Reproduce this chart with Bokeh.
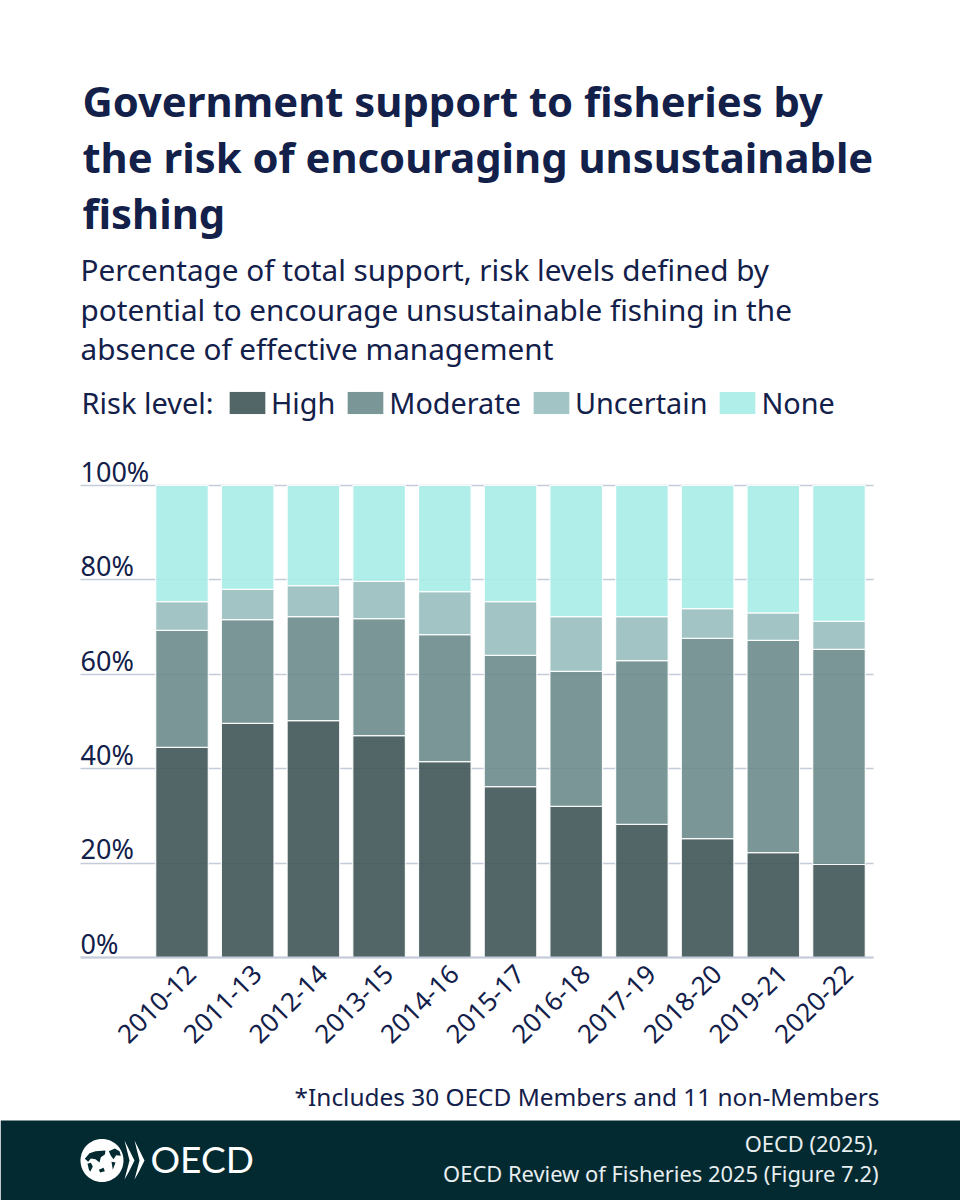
import math
import numpy as np
from bokeh.plotting import figure
from bokeh.core.properties import value
from bokeh.models import (Label, BoxAnnotation, PolyAnnotation, Legend, LegendItem,
                          Range1d, FixedTicker, ColumnDataSource)
from bokeh.embed import file_html
from bokeh.resources import INLINE

periods = ["2010-12", "2011-13", "2012-14", "2013-15", "2014-16", "2015-17",
           "2016-18", "2017-19", "2018-20", "2019-21", "2020-22"]
high = [44.5, 49.6, 50.2, 47.0, 41.5, 36.2, 32.0, 28.2, 25.2, 22.2, 19.7]
moderate = [24.8, 22.0, 22.0, 24.8, 26.9, 27.8, 28.6, 34.7, 42.4, 45.0, 45.6]
uncertain = [6.1, 6.4, 6.6, 7.9, 9.1, 11.4, 11.6, 9.3, 6.3, 5.8, 5.9]
none_risk = [24.6, 22.0, 21.2, 20.3, 22.5, 24.6, 27.8, 27.8, 26.1, 27.0, 28.8]
y_ticks = [0, 20, 40, 60, 80, 100]
y_tick_labels = ["0%", "20%", "40%", "60%", "80%", "100%"]

series_names = ["High", "Moderate", "Uncertain", "None"]
series_colors = ["#3f5556", "#6c8b8c", "#99bebe", "#a7ece7"]

INK = "#12204a"
FONT = "Noto Sans"
W, H = 960, 1200
PX_PER_PCT = 4.72
PX_PER_CAT = 65.7
ZERO_Y = 957
FIRST_X = 181.5
BASE_FIX = 0.43   # the drawn baseline sits this many ems below the requested one
LABEL_SHIFT = 9.5 / PX_PER_CAT


def Y(py):
    return H - py


xr = Range1d(-FIRST_X / PX_PER_CAT, (W - FIRST_X) / PX_PER_CAT)
yr = Range1d((ZERO_Y - H) / PX_PER_PCT, ZERO_Y / PX_PER_PCT)
x_left = (80 - FIRST_X) / PX_PER_CAT
x_right = (873 - FIRST_X) / PX_PER_CAT

p = figure(width=W, height=H, output_backend="svg", toolbar_location=None,
           x_range=xr, y_range=yr, min_border=0,
           outline_line_color=None, background_fill_color="white", border_fill_color="white")

source = ColumnDataSource(dict(x=list(range(len(periods))), High=high, Moderate=moderate,
                               Uncertain=uncertain, **{"None": none_risk}))
renderers = p.vbar_stack(series_names, x="x", width=0.80, source=source, color=series_colors,
                         fill_alpha=0.9, line_color="white", line_width=1.2, line_alpha=0.9)

p.xgrid.visible = False
p.ygrid.ticker = FixedTicker(ticks=y_ticks)
p.ygrid.grid_line_color = "#c5ccd9"
p.ygrid.grid_line_width = 1.5
p.ygrid.level = "underlay"
p.ygrid[0].cross_bounds = (x_left, x_right)

tick_pos = [i + LABEL_SHIFT for i in range(len(periods))]
ax = p.xaxis[0]
ax.fixed_location = 0
ax.bounds = (x_left, x_right)
ax.ticker = FixedTicker(ticks=tick_pos)
ax.major_label_overrides = dict(zip(tick_pos, periods))
ax.major_label_orientation = math.pi / 4
ax.major_label_text_font = FONT
ax.major_label_text_font_size = "26px"
ax.major_label_text_color = INK
ax.major_label_standoff = 6
ax.major_tick_line_color = None
ax.minor_tick_line_color = None
ax.axis_line_color = "#c5ccd9"
ax.axis_line_width = 2

p.yaxis.visible = False
p.text(x=[x_left] * len(y_ticks), y=y_ticks, text=y_tick_labels,
       text_font=value(FONT), text_font_size=value("27px"), text_color=INK, text_align="left",
       text_baseline="alphabetic", y_offset=-2.5 - BASE_FIX * 27)


def text(s, px, py, size, weight="normal", align="left", color=INK, font=FONT):
    p.add_layout(Label(x=px, y=Y(py - BASE_FIX * size), x_units="screen", y_units="screen", text=s,
                       text_font=font, text_font_size=f"{size}px", text_font_style=weight,
                       text_align=align, text_baseline="alphabetic", text_color=color))


for line, base in zip(["Government support to fisheries by",
                       "the risk of encouraging unsustainable",
                       "fishing"], [118, 174, 230]):
    text(line, 82, base, 41.75, "bold")

for line, base in zip(["Percentage of total support, risk levels defined by",
                       "potential to encourage unsustainable fishing in the",
                       "absence of effective management"], [282, 322, 361]):
    text(line, 80, base, 29.7)

text("Risk level:", 81, 414, 29)

legend = Legend(items=[LegendItem(label=n, renderers=[r]) for n, r in zip(series_names, renderers)],
                orientation="horizontal", location=(224, Y(422)),
                glyph_width=46, glyph_height=29, label_standoff=1, spacing=7,
                padding=0, margin=0, border_line_color=None, background_fill_alpha=0,
                label_text_font=FONT, label_text_font_size="28.8px", label_text_color=INK,
                label_height=29)
p.add_layout(legend, "center")

text("*Includes 30 OECD Members and 11 non-Members", 879, 1106, 24.4, align="right")

# footer band
p.add_layout(BoxAnnotation(left=0, right=W, top=Y(1120), bottom=0,
                           left_units="screen", right_units="screen",
                           top_units="screen", bottom_units="screen",
                           fill_color="#022a30", fill_alpha=1, line_color=None, level="annotation"))


def poly(px_xs, px_ys, color):
    p.add_layout(PolyAnnotation(xs=[float(v) for v in px_xs], ys=[float(Y(v)) for v in px_ys],
                                xs_units="screen", ys_units="screen",
                                fill_color=color, fill_alpha=1, line_color=None, level="annotation"))


def land(zoom_points):
    poly([75 + a / 3 for a, _ in zoom_points], [1130 + b / 3 for _, b in zoom_points], DARK)


# OECD logo: globe, chevrons, wordmark
DARK = "#022a30"
t = np.linspace(0, 2 * np.pi, 60, endpoint=False)
poly(101.5 + 21.5 * np.cos(t), 1160 + 21.5 * np.sin(t), "white")
land([(28, 85), (42, 68), (60, 62), (90, 60), (88, 72), (76, 80), (72, 96), (60, 86), (46, 84), (38, 94)])
land([(36, 100), (46, 97), (52, 108), (44, 124), (40, 116)])
land([(100, 62), (118, 54), (132, 62), (136, 76), (122, 74), (114, 86), (106, 76)])
land([(70, 118), (84, 112), (88, 122), (74, 126)])
land([(108, 94), (120, 96), (112, 118)])
for x0 in (124, 134):
    poly([x0, x0 + 4, x0 + 10, x0 + 4, x0, x0 + 5],
         [1140, 1148, 1160, 1172, 1179, 1160], "white")
text("OECD", 150, 1174, 37, color="white", font="Lato")

text("OECD (2025),", 878, 1152, 21.9, align="right", color="#e8eef0")
text("OECD Review of Fisheries 2025 (Figure 7.2)", 878, 1182, 21.9, align="right", color="#e8eef0")

open("out.html", "w").write(file_html(p, INLINE))
